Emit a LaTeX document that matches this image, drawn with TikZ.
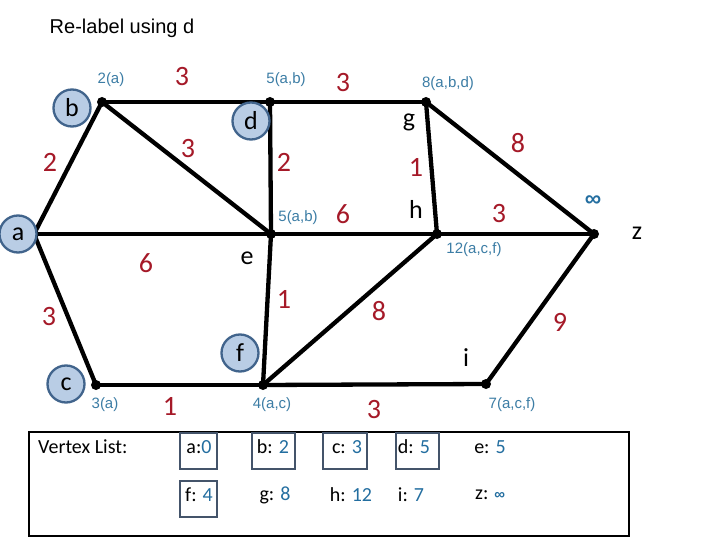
\documentclass[tikz,border=0pt]{standalone}
\usepackage{fontspec}
\setmainfont{Carlito}
\newfontfamily\arialf{Liberation Sans}
\definecolor{wred}{RGB}{165,25,40}
\definecolor{dblue}{RGB}{60,125,165}
\definecolor{tblue}{RGB}{35,110,160}
\definecolor{cfill}{RGB}{185,205,229}
\definecolor{cdraw}{RGB}{65,100,140}
\definecolor{bdraw}{RGB}{68,84,106}
\begin{document}
\begin{tikzpicture}[x=1pt,y=-1pt,
  edge/.style={line width=4.3pt},
  dot/.style={circle,fill=black,inner sep=0pt,minimum size=10pt},
  wt/.style={text=wred,font=\fontsize{28}{28}\selectfont,inner sep=0pt},
  dist/.style={text=dblue,font=\arialf\fontsize{15}{15}\selectfont,inner sep=0pt},
  vc/.style={circle,draw=cdraw,line width=2.3pt,fill=cfill,minimum size=37pt,inner sep=0pt,font=\fontsize{26}{26}\selectfont},
  vl/.style={font=\fontsize{26}{26}\selectfont,inner sep=0pt},
  tt/.style={font=\fontsize{20}{20}\selectfont,inner sep=0pt},
  tb/.style={draw=bdraw,line width=2.5pt},
  inf/.style={text=tblue,font=\arialf\bfseries\fontsize{#1}{#1}\selectfont,inner sep=0pt},
]
\useasboundingbox (0,0) rectangle (720,540);
\fill[white] (0,0) rectangle (720,540);

% title
\node[font=\arialf\fontsize{20}{20}\selectfont,inner sep=0pt] (title) at (122,28) {Re-label using d};

% vertex positions
\coordinate (a) at (34,234);
\coordinate (b) at (102,102);
\coordinate (d) at (270,102);
\coordinate (g) at (426,102);
\coordinate (e) at (271,234);
\coordinate (h) at (437,234);
\coordinate (z) at (594,234);
\coordinate (c) at (96,385);
\coordinate (f) at (263,385);
\coordinate (i) at (486,384);

% edges
\draw[edge] (a) -- (b);
\draw[edge] (b) -- (d);
\draw[edge] (b) -- (e);
\draw[edge] (d) -- (g);
\draw[edge] (d) -- (e);
\draw[edge] (g) -- (h);
\draw[edge] (g) -- (z);
\draw[edge] (a) -- (e);
\draw[edge] (e) -- (h);
\draw[edge] (h) -- (z);
\draw[edge] (a) -- (c);
\draw[edge] (e) -- (f);
\draw[edge] (f) -- (h);
\draw[edge] (z) -- (i);
\draw[edge] (c) -- (f);
\draw[edge] (f) -- (i);

% dots
\foreach \v in {a,b,d,g,e,h,z,c,f,i}
  \node[dot] (dot\v) at (\v) {};

% edge weights
\node[wt] (wab) at (50,162) {2};
\node[wt] (wbd) at (182,77) {3};
\node[wt] (wbe) at (188,149) {3};
\node[wt] (wdg) at (343,83) {3};
\node[wt] (wde) at (284,162) {2};
\node[wt] (wgh) at (416,167) {1};
\node[wt] (wgz) at (518,143) {8};
\node[wt] (wae) at (146,263) {6};
\node[wt] (weh) at (343,214) {6};
\node[wt] (whz) at (499,214) {3};
\node[wt] (wac) at (49,317) {3};
\node[wt] (wef) at (284,299) {1};
\node[wt] (wfh) at (379,311) {8};
\node[wt] (wzi) at (560,322) {9};
\node[wt] (wcf) at (170,406) {1};
\node[wt] (wfi) at (374,410) {3};

% distance labels
\node[dist] (db) at (111,80) {2(a)};
\node[dist] (dd) at (286,80) {5(a,b)};
\node[dist] (dg) at (448,84) {8(a,b,d)};
\node[dist] (de) at (298,218) {5(a,b)};
\node[dist] (dh) at (474,250) {12(a,c,f)};
\node[dist] (dc) at (105,405) {3(a)};
\node[dist] (df) at (272,405) {4(a,c)};
\node[dist] (di) at (512,405) {7(a,c,f)};
\node[inf=23] (dz) at (593,201) {∞};

% vertex letters
\node[vc] (la) at (18,234) {a};
\node[vc] (lb) at (72,108) {b};
\node[vc] (ld) at (251,121) {d};
\node[vc] (lc) at (66,384) {c};
\node[vc] (lf) at (240,353) {f};
\node[vl] (lg) at (409,122) {g};
\node[vl] (lh) at (416,209) {h};
\node[vl] (le) at (247,258) {e};
\node[vl] (li) at (466,358) {i};
\node[vl] (lz) at (637,233) {z};

% vertex list table
\draw[line width=2.5pt] (29,432) rectangle (629,536);
\draw[tb] (180,433) rectangle (217,469);
\draw[tb] (252,433) rectangle (295,469);
\draw[tb] (323,433) rectangle (367,469);
\draw[tb] (396,433) rectangle (439,469);
\draw[tb] (180,481) rectangle (217,517);
\node[tt,anchor=west] (vlist) at (38,447) {Vertex List:};
\node[tt] (ta) at (199,447) {a:\textcolor{tblue}{0}};
\node[tt] (tb) at (273,447) {b: \textcolor{tblue}{2}};
\node[tt] (tc) at (347,447) {c: \textcolor{tblue}{3}};
\node[tt] (td) at (414,447) {d: \textcolor{tblue}{5}};
\node[tt] (te) at (490,447) {e: \textcolor{tblue}{5}};
\node[tt] (tf) at (199,495) {f: \textcolor{tblue}{4}};
\node[tt] (tg) at (275,495) {g: \textcolor{tblue}{8}};
\node[tt] (th) at (351,495) {h: \textcolor{tblue}{12}};
\node[tt] (ti) at (411,495) {i: \textcolor{tblue}{7}};
\node[tt,anchor=west] (tz) at (475,495) {z: \textcolor{tblue}{\arialf\bfseries\fontsize{15}{15}\selectfont ∞}};
\end{tikzpicture}
\end{document}
